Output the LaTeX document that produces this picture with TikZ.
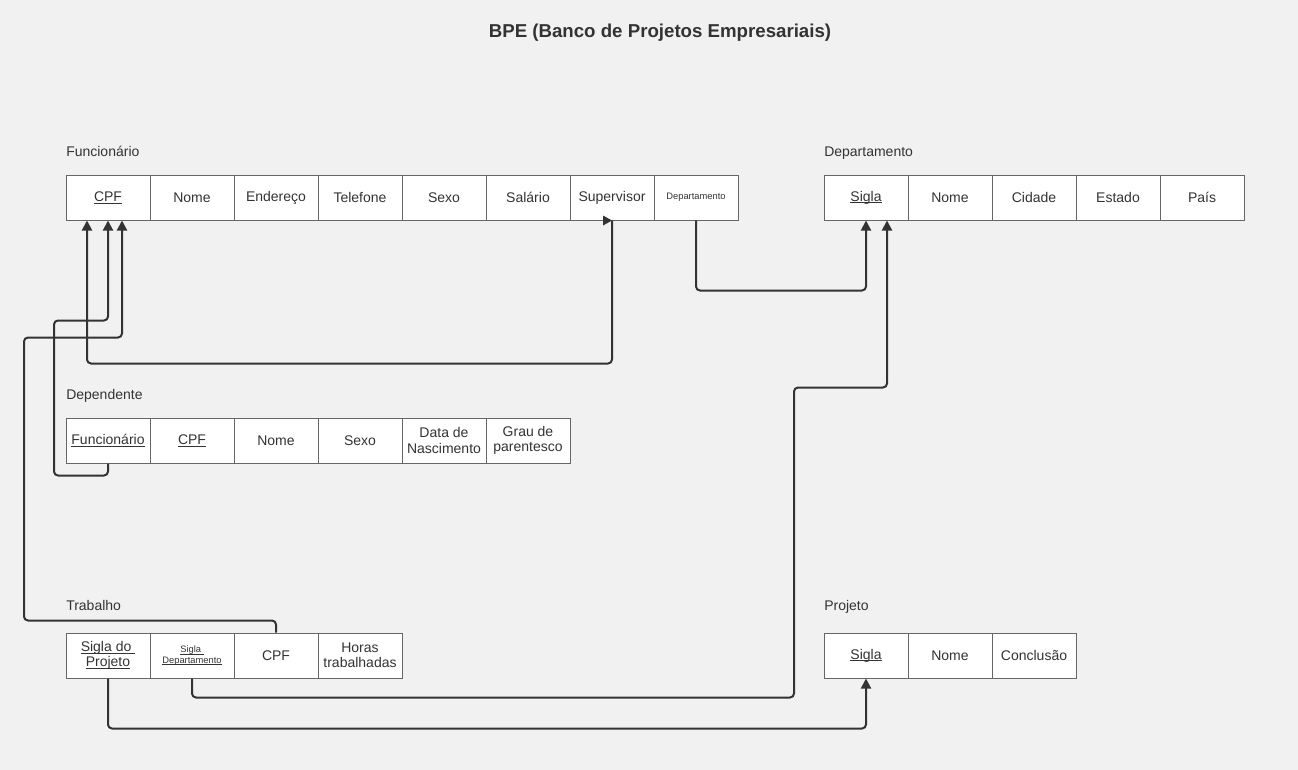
\documentclass[tikz,border=0pt]{standalone}
\usepackage{fontspec}
\setmainfont{Liberation Sans}
\usetikzlibrary{arrows.meta}
\definecolor{bgcol}{HTML}{F1F1F1}
\definecolor{inkcol}{HTML}{333333}
\definecolor{boxcol}{HTML}{666666}
\newcommand\keyline[1]{\setbox0\hbox{#1}\rlap{\rule[-1.6pt]{\wd0}{0.6pt}}\box0}
\begin{document}
\begin{tikzpicture}[x=0.75pt,y=-0.75pt]

      \tikzset{attr/.style={draw=boxcol, fill=white, line width=0.75pt, minimum width=63pt, minimum height=33.75pt, inner sep=0pt, text=inkcol, align=center, font=\fontsize{10.5}{11.5}\selectfont},
               tiny/.style={font=\fontsize{7}{8}\selectfont},
               tabname/.style={anchor=west, inner sep=0pt, text height=1.6ex, text depth=0.4ex, text=inkcol, font=\fontsize{10.5}{12}\selectfont},
               fk/.style={draw=inkcol, line width=1.5pt, rounded corners=3pt, -{Triangle[length=7.5pt,width=7.5pt]}}}
      \fill[bgcol] (0,0) rectangle (1298,770);
      \useasboundingbox (0,0) rectangle (1298,770);
      \node[text=inkcol, font=\bfseries\fontsize{14}{16}\selectfont] (title) at (660,33) {BPE (Banco de Projetos Empresariais)};
%% Tables
      	\node[tabname] (nFunc) at (66,152) {Funcionário};
      	\node[tabname] (nDept) at (824,152) {Departamento};
      	\node[tabname] (nDepe) at (66,395) {Dependente};
      	\node[tabname] (nTrab) at (66,606) {Trabalho};
      	\node[tabname] (nProj) at (824,606) {Projeto};
%% Funcionario
      	\node[attr] (fCPF) at (108,197.5) {\keyline{CPF}};
      	\node[attr] (fNome) at (192,197.5) {Nome};
      	\node[attr] (fEnd) at (276,197.5) {Endereço};
      	\node[attr] (fTel) at (360,197.5) {Telefone};
      	\node[attr] (fSexo) at (444,197.5) {Sexo};
      	\node[attr] (fSal) at (528,197.5) {Salário};
      	\node[attr] (fSup) at (612,197.5) {Supervisor};
      	\node[attr, tiny] (fDep) at (696,197.5) {Departamento};
%% Departamento
      	\node[attr] (dSigla) at (866,197.5) {\keyline{Sigla}};
      	\node[attr] (dNome) at (950,197.5) {Nome};
      	\node[attr] (dCid) at (1034,197.5) {Cidade};
      	\node[attr] (dEst) at (1118,197.5) {Estado};
      	\node[attr] (dPais) at (1202,197.5) {País};
%% Dependente
      	\node[attr] (eFunc) at (108,440.5) {\keyline{Funcionário}};
      	\node[attr] (eCPF) at (192,440.5) {\keyline{CPF}};
      	\node[attr] (eNome) at (276,440.5) {Nome};
      	\node[attr] (eSexo) at (360,440.5) {Sexo};
      	\node[attr] (eData) at (444,440.5) {Data de\\Nascimento};
      	\node[attr] (eGrau) at (528,440.5) {Grau de\\parentesco};
%% Trabalho
      	\node[attr] (tSigProj) at (108,655.5) {\keyline{Sigla do }\\\keyline{Projeto}};
      	\node[attr, tiny] (tSigDep) at (192,655.5) {\keyline{Sigla }\\\keyline{Departamento}};
      	\node[attr] (tCPF) at (276,655.5) {CPF};
      	\node[attr] (tHoras) at (360,655.5) {Horas\\trabalhadas};
%% Projeto
      	\node[attr] (pSigla) at (866,655.5) {\keyline{Sigla}};
      	\node[attr] (pNome) at (950,655.5) {Nome};
      	\node[attr] (pConc) at (1034,655.5) {Conclusão};
%Edges
		\draw[fk] (fSup.south) -- ++(0,143) -| ([xshift=-15.75pt]fCPF.south);
		\fill[inkcol] ([shift={(-9,-5)}]fSup.south) -- (fSup.south) -- ([shift={(-9,5)}]fSup.south) -- cycle;
		\draw[fk] (eFunc.south) -- ++(0,12) -| ++(-54,-155) -| (fCPF.south);
		\draw[fk] (tCPF.north) -- ++(0,-12) -| ++(-252,-283) -| ([xshift=10.5pt]fCPF.south);
		\draw[fk] (fDep.south) -- ++(0,70) -| (dSigla.south);
		\draw[fk] (tSigDep.south) -- ++(0,19) -| ++(602,-310) -| ([xshift=15.75pt]dSigla.south);
		\draw[fk] (tSigProj.south) -- ++(0,50) -| (pSigla.south);

	\end{tikzpicture}
\end{document}
